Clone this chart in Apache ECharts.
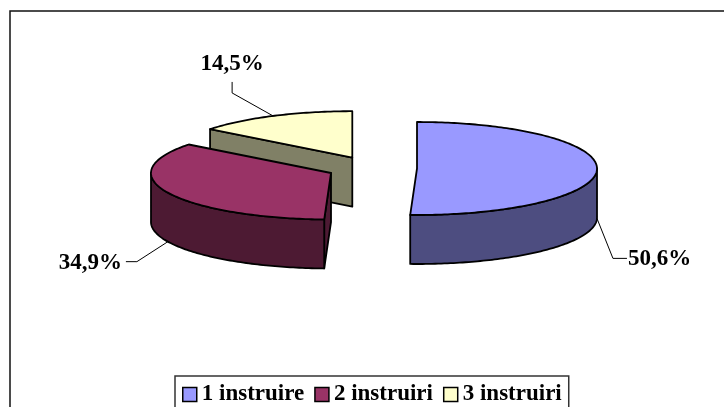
<!DOCTYPE html>
<html>
<head>
<meta charset="utf-8">
<style>html,body{margin:0;padding:0;background:#fff}#c{width:724px;height:407px}</style>
<script src="https://cdn.jsdelivr.net/npm/echarts@6/dist/echarts.min.js"></script>
</head>
<body>
<div id="c"></div>
<script>
// Exploded 3D pie: share of respondents by number of training sessions
const categories = ['1 instruire', '2 instruiri', '3 instruiri'];
const shares = [50.6, 34.9, 14.5];
const topColors = ['#9999FF', '#993366', '#FFFFCC'];
const wallColors = ['#4D4D80', '#4D1A33', '#808066'];

// Pie geometry in pixels
const RX = 180, RY = 46.5, DEPTH = 49;
const sliceCentres = [[417, 168.5], [331, 173], [352.3, 157.7]];
// Leader elbows and label anchors, relative to each slice's rim point
const leaders = [
  { elbow: [[16, 40], [30, 40]], label: [31, 41], align: 'left', lift: true },
  { elbow: [[-31, 20], [-42, 20]], label: [-46, 21], align: 'right', lift: true },
  { elbow: [[-41, -23], [-41, -34]], label: [-41, -52], align: 'center', lift: false }
];
const FONT = 'bold 23px "Liberation Serif", "Times New Roman", serif';
const total = shares.reduce((a, b) => a + b, 0);
const rad = d => d * Math.PI / 180;

function renderSlice(idx) {
  return function (params, api) {
    const value = api.value(0);
    const before = shares.slice(0, idx).reduce((a, b) => a + b, 0);
    const a0 = before / total * 360;
    const a1 = a0 + value / total * 360;
    const [cx, cy] = sliceCentres[idx];
    const rim = (a, drop) => [cx + RX * Math.sin(rad(a)), cy - RY * Math.cos(rad(a)) + (drop || 0)];
    const arc = (from, to, drop) => {
      const pts = [];
      const n = Math.max(2, Math.ceil(Math.abs(to - from)));
      for (let i = 0; i <= n; i++) pts.push(rim(from + (to - from) * i / n, drop));
      return pts;
    };
    const edge = { stroke: '#000', lineWidth: 1.8, lineJoin: 'round' };
    const wallStyle = Object.assign({ fill: wallColors[idx] }, edge);
    const children = [];
    const vertex = [cx, cy];
    const below = [cx, cy + DEPTH];

    // Radial wall on the leading edge, shown when it faces the viewer
    if (Math.sin(rad(a0)) < -1e-6) {
      const p = rim(a0), q = rim(a0, DEPTH);
      children.push({ type: 'polygon', shape: { points: [vertex, p, q, below] }, style: wallStyle });
    }
    // Outer wall along the front half of the rim
    const w0 = Math.max(a0, 90), w1 = Math.min(a1, 270);
    if (w1 > w0) {
      children.push({
        type: 'polygon',
        shape: { points: arc(w0, w1, 0).concat(arc(w1, w0, DEPTH)) },
        style: wallStyle
      });
    }
    // Top face
    children.push({
      type: 'polygon',
      shape: { points: [vertex].concat(arc(a0, a1, 0)) },
      style: Object.assign({ fill: topColors[idx] }, edge)
    });

    // Leader line and value label, anchored at the middle of the slice's rim
    const mid = (a0 + a1) / 2;
    const l = leaders[idx];
    const anchor = rim(mid, l.lift ? DEPTH : 0);
    const linePts = [anchor].concat(l.elbow.map(o => [anchor[0] + o[0], anchor[1] + o[1]]));
    children.push({
      type: 'polyline',
      shape: { points: linePts },
      style: { stroke: '#000', lineWidth: 1, fill: null }
    });
    children.push({
      type: 'text',
      style: {
        x: anchor[0] + l.label[0],
        y: anchor[1] + l.label[1],
        text: value.toFixed(1).replace('.', ',') + '%',
        font: FONT,
        fill: '#000',
        align: l.align,
        verticalAlign: 'middle'
      }
    });
    return { type: 'group', children };
  };
}

// Painted back to front: yellow, then red, then blue
const drawOrder = { 2: 1, 1: 2, 0: 3 };
const chart = echarts.init(document.getElementById('c'), null, { renderer: 'canvas' });
chart.setOption({
  animation: false,
  backgroundColor: '#fff',
  graphic: [{
    type: 'rect',
    z: 0,
    silent: true,
    shape: { x: 10, y: 11, width: 900, height: 600 },
    style: { fill: '#fff', stroke: '#111', lineWidth: 1.5 }
  }],
  legend: {
    data: categories,
    left: 175,
    top: 376,
    orient: 'horizontal',
    icon: 'rect',
    itemWidth: 14,
    itemHeight: 14,
    itemGap: 10,
    padding: [7, 7, 14, 7],
    borderColor: '#333',
    borderWidth: 1.5,
    backgroundColor: '#fff',
    itemStyle: { borderColor: '#000', borderWidth: 1.5 },
    textStyle: {
      fontFamily: '"Liberation Serif", "Times New Roman", serif',
      fontWeight: 'bold',
      fontSize: 23,
      color: '#000'
    }
  },
  series: categories.map((name, idx) => ({
    type: 'custom',
    name,
    coordinateSystem: 'none',
    z: drawOrder[idx] + 1,
    itemStyle: { color: topColors[idx], borderColor: '#000' },
    renderItem: renderSlice(idx),
    data: [[shares[idx]]],
    silent: true
  }))
});
</script>
</body>
</html>
